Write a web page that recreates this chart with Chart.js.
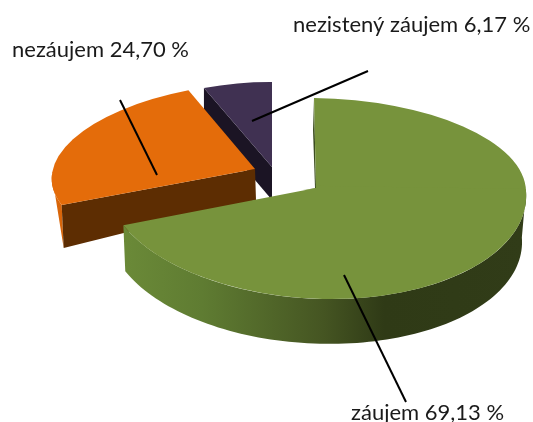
<!DOCTYPE html>
<html>
<head>
<meta charset="utf-8">
<style>
  html, body { margin: 0; background: #fff; }
  #wrap { width: 533px; height: 422px; }
</style>
<script src="https://cdn.jsdelivr.net/npm/chart.js@4"></script>
</head>
<body>
<div id="wrap"><canvas id="pie"></canvas></div>
<script>
const categories = ['záujem', 'nezáujem', 'nezistený záujem']
const shares = [69.13, 24.70, 6.17]
const topColors = ['#77933c', '#e46c0a', '#403152']

// how each slice is laid on the tilted plane: o = tip of the slice, u/v = screen vectors of the radius
const planes = [
  { o: [316, 188], u: [210, 3], v: [2, 90], v2: [9, 111] },
  { o: [255, 169], u: [203, -5], v: [-11, 87] },
  { o: [272, 167], u: [180, 1], v: [0, 85] }
]

// label text position and the leader line from the text to the slice
const labelSpots = [
  { x: 351, y: 420, line: [[344, 275], [406, 402]] },
  { x: 12, y: 57, line: [[120, 100], [157, 175]] },
  { x: 293, y: 32, line: [[368, 71], [252, 121]] }
]

function pt(p, a, v) {
  return [p.o[0] + p.u[0] * Math.cos(a) + v[0] * Math.sin(a),
          p.o[1] + p.u[1] * Math.cos(a) + v[1] * Math.sin(a)]
}

function poly(ctx, points, fill) {
  ctx.beginPath()
  points.forEach((q, i) => i ? ctx.lineTo(q[0], q[1]) : ctx.moveTo(q[0], q[1]))
  ctx.closePath()
  ctx.fillStyle = fill
  ctx.fill()
}

function shift(q, d) {
  return [q[0] + d[0], q[1] + d[1]]
}

function drawFace(ctx, arc, p, v, clipY) {
  const R = arc.outerRadius
  ctx.save()
  ctx.translate(p.o[0], p.o[1])
  ctx.transform(p.u[0] / R, p.u[1] / R, v[0] / R, v[1] / R, 0, 0)
  ctx.translate(-arc.x, -arc.y)
  if (clipY) {
    ctx.beginPath()
    ctx.rect(arc.x - R - 2, clipY < 0 ? arc.y - R - 2 : arc.y - 4, 2 * R + 4, R + 6)
    ctx.clip()
  }
  arc.draw(ctx)
  ctx.restore()
}

const pie3d = {
  id: 'pie3d',
  beforeDatasetDraw(chart) {
    const ctx = chart.ctx
    const arcs = chart.getDatasetMeta(0).data

    // purple
    let p = planes[2], a = arcs[2]
    let c = pt(p, a.startAngle, p.v)
    poly(ctx, [c, p.o, shift(p.o, [0, 33]), shift(c, [0, 32])], '#1b1424')
    drawFace(ctx, a, p, p.v)

    // orange
    p = planes[1]; a = arcs[1]
    c = pt(p, a.startAngle, p.v)
    const rim = []
    for (let t = a.startAngle; t < a.startAngle + 0.4; t += 0.04) rim.push(pt(p, t, p.v))
    poly(ctx, [...rim, shift(c, [2, 43])], '#d9660a')
    poly(ctx, [c, p.o, shift(p.o, [1, 31]), shift(c, [2, 43])], '#5d2d02')
    drawFace(ctx, a, p, p.v)

    // green
    p = planes[0]; a = arcs[0]
    poly(ctx, [pt(p, a.startAngle, p.v), p.o, [315, 188], [313, 130]], '#3c4d20')
    const upper = [], lower = []
    const k = 0.985
    for (let t = 0; t <= a.endAngle + 0.001; t += 0.03) {
      const q = pt(p, t, p.v2)
      upper.push(q)
      lower.unshift([p.o[0] + (q[0] - p.o[0]) * k - 1, p.o[1] + (q[1] - p.o[1]) * k + 46.5])
    }
    const e = pt(p, a.endAngle, p.v2)
    upper.push(e)
    lower.unshift([p.o[0] + (e[0] - p.o[0]) * k - 1, p.o[1] + (e[1] - p.o[1]) * k + 46.5])
    const g = ctx.createLinearGradient(121, 0, 526, 0)
    g.addColorStop(0, '#6b8a38')
    g.addColorStop(0.2, '#5f7c32')
    g.addColorStop(0.5, '#455522')
    g.addColorStop(0.65, '#2f3a16')
    g.addColorStop(1, '#313c18')
    poly(ctx, [...upper, ...lower], g)
    drawFace(ctx, a, p, p.v, -1)
    drawFace(ctx, a, p, p.v2, 1)

    return false
  },
  afterDraw(chart) {
    const ctx = chart.ctx
    ctx.save()
    ctx.strokeStyle = '#000'
    ctx.lineWidth = 2
    ctx.fillStyle = '#1a1a1a'
    ctx.font = '22px Lato'
    categories.forEach((name, i) => {
      const s = labelSpots[i]
      ctx.beginPath()
      ctx.moveTo(s.line[0][0], s.line[0][1])
      ctx.lineTo(s.line[1][0], s.line[1][1])
      ctx.stroke()
      ctx.fillText(name + ' ' + shares[i].toFixed(2).replace('.', ',') + ' %', s.x, s.y)
    })
    ctx.restore()
  }
}

new Chart(document.getElementById('pie'), {
  type: 'pie',
  data: {
    labels: categories,
    datasets: [{
      data: shares,
      backgroundColor: topColors,
      borderWidth: 0
    }]
  },
  options: {
    responsive: true,
    maintainAspectRatio: false,
    animation: false,
    plugins: {
      legend: { display: false },
      tooltip: { enabled: false }
    }
  },
  plugins: [pie3d]
})
</script>
</body>
</html>
